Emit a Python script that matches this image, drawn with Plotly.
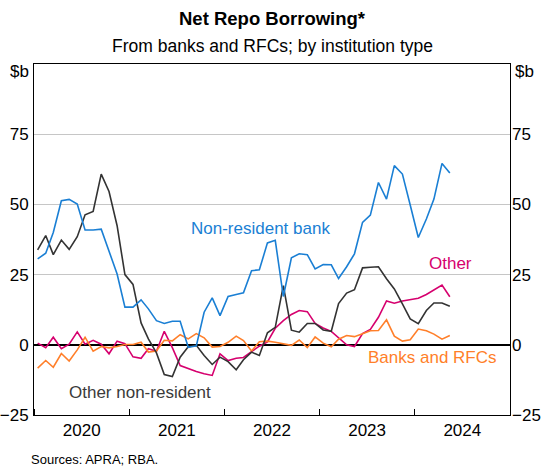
import pandas as pd
import plotly.graph_objects as go

# Monthly observations, Jan 2020 - May 2024 ($b)
months = pd.date_range("2020-01-01", "2024-05-01", freq="MS") + pd.Timedelta(days=14)

non_resident_bank = [30.6, 32.6, 40.0, 51.3, 51.8, 50.1, 40.9, 40.9, 41.2, 33.3,
                     25.2, 13.4, 13.4, 16.0, 12.8, 8.6, 7.6, 8.4, 8.4, -0.9,
                     -0.4, 11.6, 16.7, 10.4, 17.2, 17.9, 18.5, 26.4, 26.7, 36.3,
                     37.2, 17.2, 31.0, 32.4, 32.1, 27.0, 28.6, 28.5, 23.6, 27.8,
                     32.4, 43.6, 46.2, 57.8, 51.9, 63.8, 60.8, 49.8, 38.2, 44.8,
                     51.9, 64.6, 61.2]
other_non_resident = [33.8, 38.9, 32.1, 37.3, 34.0, 38.5, 46.3, 47.5, 60.8, 54.6,
                      42.4, 25.0, 21.5, 7.8, 2.1, -2.9, -10.6, -11.3, -4.4, -0.7,
                      -0.2, -3.8, -7.0, -4.4, -6.0, -8.9, -5.3, -2.6, -3.8, 4.3,
                      6.2, 21.1, 5.2, 4.5, 7.6, 7.6, 5.3, 4.8, 14.7, 18.4,
                      19.6, 27.4, 27.6, 27.8, 23.5, 19.9, 14.6, 9.2, 7.5, 12.2,
                      14.9, 14.9, 13.7]
other = [0.6, -1.0, 2.7, -1.4, 0.2, 4.6, 0.2, 1.6, 0.2, -3.2,
         1.3, 0.4, -4.3, -4.8, -1.4, -2.3, 4.8, -1.0, -7.4, -8.5,
         -9.5, -10.3, -10.9, -3.2, -5.6, -4.8, -4.5, -2.4, -0.5, 1.0,
         5.9, 8.6, 10.8, 12.2, 11.8, 7.6, 6.0, 4.8, 2.5, 0.0,
         -0.6, 4.0, 5.5, 9.8, 15.6, 14.8, 15.6, 16.2, 16.6, 17.9,
         19.6, 21.3, 17.1]
banks_rfcs = [-8.3, -5.6, -8.0, -3.1, -5.8, -1.8, 2.7, -2.3, -0.6, -1.1,
              -0.6, 0.1, 0.1, 0.9, -2.6, -2.2, 1.6, 1.4, 3.6, 2.1,
              4.0, 2.5, -0.8, -0.6, 0.9, 3.1, 1.5, -2.2, 1.1, 1.3,
              0.9, 0.4, -0.2, 1.7, -1.0, 2.8, 0.6, -0.7, 2.0, 3.3,
              2.9, 3.9, 5.0, 5.1, 8.9, 3.1, 1.3, 1.8, 5.6, 5.0,
              3.8, 2.0, 3.3]

y_ticks = [-25, 0, 25, 50, 75]

BLUE = "#1a7fd4"
BLACK = "#333333"
PINK = "#d6006e"
ORANGE = "#ff7f2a"
FONT = "Liberation Sans, Arial, sans-serif"

W, H = 543, 466
ML, MR, MT, MB = 34, 33, 64, 51

fig = go.Figure()
series = [
    ("Other", other, PINK),
    ("Banks and RFCs", banks_rfcs, ORANGE),
    ("Other non-resident", other_non_resident, BLACK),
    ("Non-resident bank", non_resident_bank, BLUE),
]
for name, vals, col in series:
    fig.add_trace(go.Scatter(x=months, y=vals, mode="lines", name=name,
                             line=dict(color=col, width=1.6), showlegend=False))
# empty trace to activate right-hand axis
fig.add_trace(go.Scatter(x=[], y=[], yaxis="y2", showlegend=False))

fig.update_layout(
    width=W, height=H,
    margin=dict(l=ML, r=MR, t=MT, b=MB),
    paper_bgcolor="white", plot_bgcolor="white",
    font=dict(family=FONT, size=17, color="black"),
    xaxis=dict(type="date", range=["2020-01-01", "2025-01-01"],
               dtick="M12", tick0="2020-01-01", tickformat="%Y",
               ticklabelmode="period", ticks="inside", ticklen=6,
               tickcolor="black", showgrid=False, showline=True,
               linecolor="black", linewidth=1, mirror=True,
               tickfont=dict(size=17), automargin=False),
    yaxis=dict(range=[-25, 100], tickvals=y_ticks, ticks="",
               showgrid=True, gridcolor="#c6c6c6", gridwidth=1,
               zeroline=True, zerolinecolor="black", zerolinewidth=1.5,
               showline=True, linecolor="black", linewidth=1, mirror=True,
               tickfont=dict(size=17), ticklabelstandoff=1, automargin=False),
    yaxis2=dict(range=[-25, 100], tickvals=y_ticks, overlaying="y",
                side="right", showgrid=False, zeroline=False, ticks="",
                tickfont=dict(size=17), ticklabelstandoff=1, automargin=False),
)

def px_x(px):
    # screen pixel -> paper fraction
    return (px - ML) / (W - ML - MR)

annotations = [
    dict(text="<b>Net Repo Borrowing*</b>", x=0.5, xref="paper", xanchor="center",
         y=1, yref="paper", yshift=46, yanchor="middle", showarrow=False,
         font=dict(size=18.5)),
    dict(text="From banks and RFCs; by institution type", x=0.5, xref="paper",
         xanchor="center", y=1, yref="paper", yshift=18, yanchor="middle",
         showarrow=False, font=dict(size=17.5)),
    dict(text="$b", x=0, xref="paper", xanchor="right", y=100, yref="y",
         yshift=-7, xshift=-3, showarrow=False, font=dict(size=17)),
    dict(text="$b", x=1, xref="paper", xanchor="left", y=100, yref="y",
         yshift=-7, xshift=3, showarrow=False, font=dict(size=17)),
    dict(text="Non-resident bank", x=px_x(260), xref="paper", xanchor="center",
         y=41.4, yref="y", showarrow=False, font=dict(size=17, color=BLUE)),
    dict(text="Other", x=px_x(450), xref="paper", xanchor="center",
         y=28.9, yref="y", showarrow=False, font=dict(size=17, color=PINK)),
    dict(text="Banks and RFCs", x=px_x(432), xref="paper", xanchor="center",
         y=-4.5, yref="y", showarrow=False, font=dict(size=17, color=ORANGE)),
    dict(text="Other non-resident", x=px_x(140), xref="paper", xanchor="center",
         y=-17, yref="y", showarrow=False, font=dict(size=17, color="#3a3a3a")),
    dict(text="Sources: APRA; RBA.", x=px_x(29), xref="paper", xanchor="left",
         y=0, yref="paper", yshift=-44, yanchor="middle", showarrow=False,
         font=dict(size=13)),
]
fig.update_layout(annotations=annotations)

fig.write_html("out.html", config={"displayModeBar": False},
               post_script="document.body.style.margin='0';document.body.style.overflow='hidden';")
